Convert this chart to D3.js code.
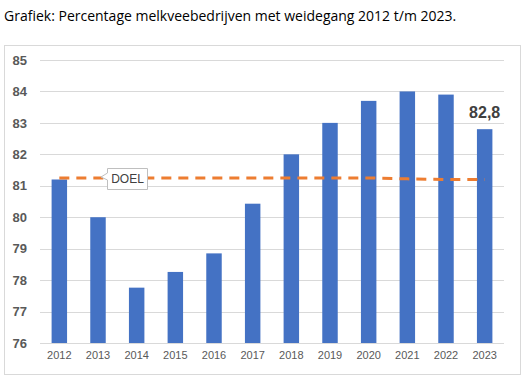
<!DOCTYPE html>
<html>
<head>
<meta charset="utf-8">
<script src="https://cdn.jsdelivr.net/npm/d3@7"></script>
<style>
  body { margin: 0; background: #fff; }
  svg { display: block; }
</style>
</head>
<body>
<svg id="chart" width="525" height="379"></svg>
<script>
// ----- data -----
const years = ["2012", "2013", "2014", "2015", "2016", "2017", "2018", "2019", "2020", "2021", "2022", "2023"];
const weidegang = [81.2, 80.0, 77.76, 78.26, 78.85, 80.43, 82.0, 83.0, 83.7, 84.0, 83.9, 82.8];
const doel = [81.25, 81.25, 81.25, 81.25, 81.25, 81.25, 81.25, 81.25, 81.25, 81.22, 81.2, 81.2];
const yTicks = [76, 77, 78, 79, 80, 81, 82, 83, 84, 85];
const titleText = "Grafiek: Percentage melkveebedrijven met weidegang 2012 t/m 2023.";

const svg = d3.select("#chart");

// titel
svg.append("text")
  .attr("x", 4).attr("y", 21)
  .style("font-family", "'Open Sans', sans-serif")
  .style("font-size", "14px")
  .style("fill", "#000")
  .text(titleText);

// kader rond grafiek
svg.append("rect")
  .attr("x", 4.5).attr("y", 45.5)
  .attr("width", 516).attr("height", 329)
  .attr("fill", "#fff")
  .attr("stroke", "#d9d9d9");

const x = d3.scaleBand().domain(years).range([40, 504]).paddingInner(0.6).paddingOuter(0.3);
const y = d3.scaleLinear().domain([76, 85]).range([343, 60]);

// gridlijnen
svg.append("g")
  .selectAll("line")
  .data(yTicks)
  .enter().append("line")
  .attr("x1", 40).attr("x2", 504)
  .attr("y1", d => Math.round(y(d)) + 0.5)
  .attr("y2", d => Math.round(y(d)) + 0.5)
  .attr("stroke", "#d9d9d9");

// y-as labels
const yAxis = svg.append("g")
  .attr("transform", "translate(40,0)")
  .call(d3.axisLeft(y).tickValues(yTicks).tickSize(0).tickPadding(13));
yAxis.select(".domain").remove();
yAxis.selectAll("text")
  .style("font-family", "'Liberation Sans', Arial, sans-serif")
  .style("font-size", "13px")
  .style("font-weight", "bold")
  .style("fill", "#595959");

// x-as labels
const xAxis = svg.append("g")
  .attr("transform", "translate(0,343)")
  .call(d3.axisBottom(x).tickSize(0).tickPadding(8));
xAxis.select(".domain").remove();
xAxis.selectAll("text")
  .style("font-family", "'Liberation Sans', Arial, sans-serif")
  .style("font-size", "11px")
  .style("fill", "#595959");

// staven
svg.append("g")
  .selectAll("rect")
  .data(years)
  .enter().append("rect")
  .attr("x", d => x(d))
  .attr("width", x.bandwidth())
  .attr("y", (d, i) => y(weidegang[i]))
  .attr("height", (d, i) => y(76) - y(weidegang[i]))
  .attr("fill", "#4472c4");

// doel-lijn
const line = d3.line()
  .x((d, i) => x(years[i]) + x.bandwidth() / 2)
  .y(d => y(d));
svg.append("path")
  .datum(doel)
  .attr("d", line)
  .attr("fill", "none")
  .attr("stroke", "#ed7d31")
  .attr("stroke-width", 3)
  .attr("stroke-dasharray", "10,7");

// label laatste staaf
const last = years.length - 1;
svg.append("text")
  .attr("x", x(years[last]) + x.bandwidth() / 2)
  .attr("y", y(weidegang[last]) - 11)
  .attr("text-anchor", "middle")
  .style("font-family", "'Liberation Sans', Arial, sans-serif")
  .style("font-size", "16px")
  .style("font-weight", "bold")
  .style("fill", "#404040")
  .text(String(weidegang[last].toFixed(1)).replace(".", ","));

// DOEL callout
const cx = 107, cy = 168, cw = 40, ch = 21;
svg.append("path")
  .attr("d", `M${cx + 0.5},${cy + 0.5} H${cx + cw + 0.5} V${cy + ch + 0.5} H${cx + 0.5} V${cy + 12} L${cx - 6},${cy + 9} L${cx + 0.5},${cy + 5} Z`)
  .attr("fill", "#fff")
  .attr("stroke", "#bfbfbf");
svg.append("text")
  .attr("x", cx + cw / 2 + 0.5)
  .attr("y", cy + 15)
  .attr("text-anchor", "middle")
  .style("font-family", "'Liberation Sans', Arial, sans-serif")
  .style("font-size", "12px")
  .style("fill", "#404040")
  .text("DOEL");
</script>
</body>
</html>
